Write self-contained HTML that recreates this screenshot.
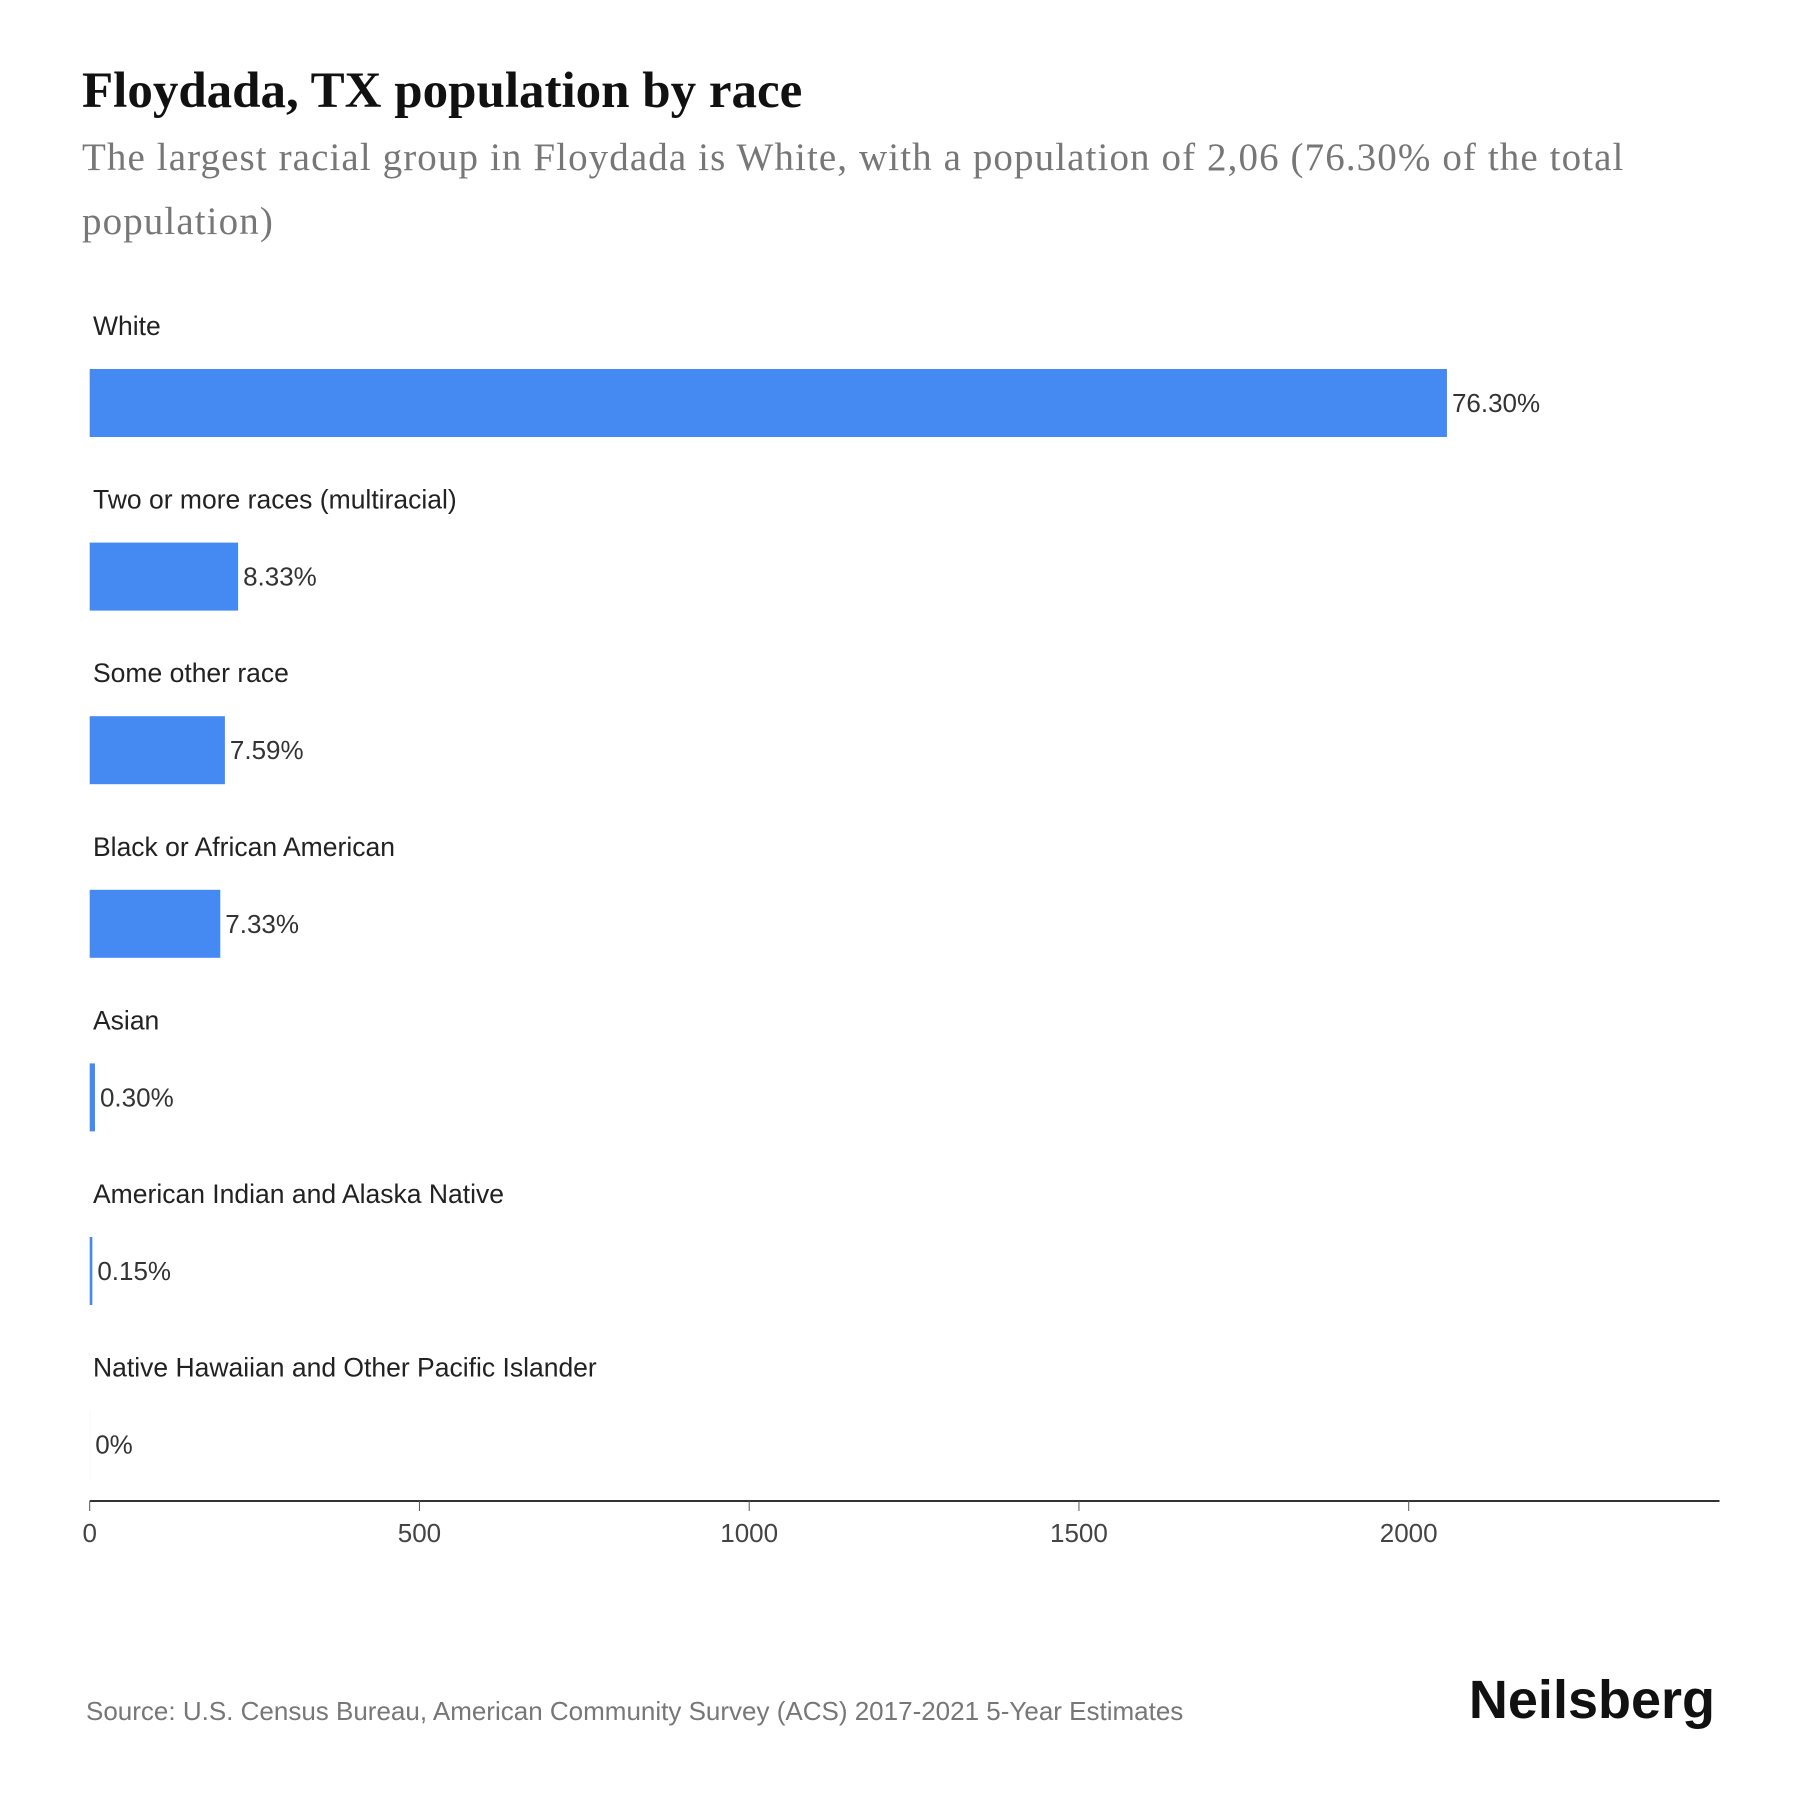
<!DOCTYPE html>
<html><head><meta charset="utf-8"><style>
body{margin:0;background:#fff;}
svg{display:block;}
</style></head><body>
<svg id="c" width="1800" height="1800" xmlns="http://www.w3.org/2000/svg">
<text x="82" y="107" font-family="Liberation Serif, serif" font-weight="bold" font-size="51" fill="#111">Floydada, TX population by race</text>
<text x="82" y="170" font-family="Liberation Serif, serif" font-size="39" letter-spacing="1.1" fill="#777">The largest racial group in Floydada is White, with a population of 2,06 (76.30% of the total</text>
<text x="82" y="234" font-family="Liberation Serif, serif" font-size="39" letter-spacing="1.1" fill="#777">population)</text>
<g id="bars"></g>
<g id="axis"></g>
<text x="86" y="1720" font-family="Liberation Sans, sans-serif" font-size="26" fill="#777">Source: U.S. Census Bureau, American Community Survey (ACS) 2017-2021 5-Year Estimates</text>
<text x="1715" y="1718" text-anchor="end" font-family="Liberation Sans, sans-serif" font-weight="bold" font-size="54" fill="#111">Neilsberg</text>
</svg>
<script>
const categories=["White","Two or more races (multiracial)","Some other race","Black or African American","Asian","American Indian and Alaska Native","Native Hawaiian and Other Pacific Islander"];
const values=[2058,225,205,198,8,4,0];
const pctLabels=["76.30%","8.33%","7.59%","7.33%","0.30%","0.15%","0%"];
const ticks=[0,500,1000,1500,2000];
const NS="http://www.w3.org/2000/svg";
const x0=89.7,pxPer=0.6595;
const xs=v=>x0+v*pxPer;
const bandTop=369,bandStep=173.6,barH=68;
const ys=i=>bandTop+i*bandStep;
const bars=document.getElementById('bars');
function mk(tag,attrs,parent){const e=document.createElementNS(NS,tag);for(const k in attrs)e.setAttribute(k,attrs[k]);parent.appendChild(e);return e;}
categories.forEach((c,i)=>{
  const y=ys(i);
  const lab=mk('text',{x:93,y:y-34,'font-family':'Liberation Sans, sans-serif','font-size':26.5,fill:'#222'},bars);
  lab.textContent=c;
  
  
  const w=Math.max(xs(values[i])-x0,values[i]>0?2:0.5);
  const r=mk('rect',{x:x0,y:y,width:w,height:barH,fill:values[i]>0?'#4589f3':'#eee'},bars);
  
  
  const t=mk('text',{x:x0+w+5,y:y+barH/2+9,'font-family':'Liberation Sans, sans-serif','font-size':26,fill:'#333'},bars);
  t.textContent=pctLabels[i];
  
  
});
const axis=document.getElementById('axis');
const al=mk('line',{x1:x0,x2:1719.5,y1:1501,y2:1501,stroke:'#333','stroke-width':2},axis);


ticks.forEach(v=>{
  const tl=mk('line',{x1:xs(v),x2:xs(v),y1:1501,y2:1511,stroke:'#555','stroke-width':1},axis);
  
  
  const tt=mk('text',{x:xs(v),y:1542,'text-anchor':'middle','font-family':'Liberation Sans, sans-serif','font-size':26,fill:'#444'},axis);
  tt.textContent=v;
  
  
});
</script>
</body></html>
